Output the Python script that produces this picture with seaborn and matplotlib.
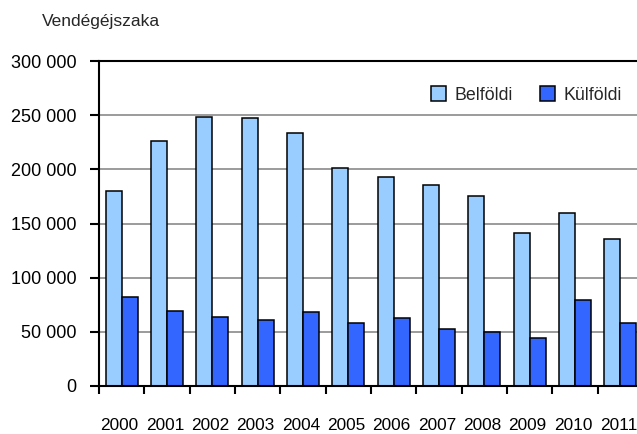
import pandas as pd
import matplotlib.pyplot as plt
import matplotlib.transforms as mtransforms
import seaborn as sns
from matplotlib.patches import Patch
from matplotlib.ticker import FuncFormatter, FixedLocator

# ── Data ──────────────────────────────────────────────────────────────────────
years = ['2000', '2001', '2002', '2003', '2004', '2005',
         '2006', '2007', '2008', '2009', '2010', '2011']
belfoldi = [180000, 226000, 248500, 247000, 233500, 201000,
            193000, 186000, 175000, 141500, 160000, 136000]
kulfoldi = [82500, 69500, 64000, 60500, 68000, 58500,
            62500, 53000, 49500, 44000, 79000, 58500]
series = ['Belföldi', 'Külföldi']
colors = ['#99CCFF', '#3366FF']

df = pd.DataFrame({
    'year': years * 2,
    'value': belfoldi + kulfoldi,
    'type': [series[0]] * len(years) + [series[1]] * len(years),
})

sns.set_theme(style='ticks')
plt.rcParams['font.family'] = ['Liberation Sans', 'DejaVu Sans']

fig = plt.figure(figsize=(6.37, 4.34), dpi=100)
ax = fig.add_axes([0.1554, 0.1106, 0.854, 0.7488])

sns.barplot(data=df, x='year', y='value', hue='type', order=years,
            hue_order=series, palette=colors, edgecolor='black',
            linewidth=1.1, width=0.71, saturation=1, ax=ax, legend=False)

# ── Axes styling ──────────────────────────────────────────────────────────────
ax.set_xlim(-0.5, len(years) - 0.5)
ax.set_ylim(0, 300000)
ax.set_yticks(range(0, 300001, 50000))
ax.yaxis.set_major_formatter(FuncFormatter(lambda v, p: f"{int(v):,}".replace(',', ' ')))
ax.set_xlabel('')
ax.set_ylabel('')

ax.set_axisbelow(True)
ax.yaxis.grid(True, color='#808080', linewidth=1.1)

for side in ['left', 'bottom', 'top']:
    ax.spines[side].set_color('black')
    ax.spines[side].set_linewidth(1.5)
ax.spines['right'].set_visible(False)

ax.tick_params(axis='y', direction='out', length=6.5, width=1.5,
               color='black', labelsize=13, pad=9.5, labelcolor='black')
ax.tick_params(axis='x', which='major', length=0, labelsize=12.4,
               pad=23, labelcolor='black')
ax.xaxis.set_minor_locator(FixedLocator([i - 0.5 for i in range(len(years) + 1)]))
ax.tick_params(axis='x', which='minor', direction='out', length=6, width=1.5,
               color='black')

# nudge year labels slightly left, as in the original
shift = mtransforms.ScaledTranslation(-2 / 100, 0, fig.dpi_scale_trans)
for lab in ax.get_xticklabels():
    lab.set_transform(lab.get_transform() + shift)

# ── Legend ────────────────────────────────────────────────────────────────────
handles = [Patch(facecolor=c, edgecolor='black', linewidth=1.1) for c in colors]
ax.legend(handles, series, loc='center right', bbox_to_anchor=(0.976, 0.781),
          bbox_transform=fig.transFigure, ncol=2, frameon=False,
          fontsize=12.8, handlelength=0.85, handleheight=0.85,
          handletextpad=0.45, columnspacing=1.55, borderpad=0, borderaxespad=0)

fig.text(0.066, 1 - 25.7 / 434, 'Vendégéjszaka', fontsize=12.5,
         va='baseline', ha='left')

fig.savefig('out.png', dpi=100)
plt.close()
